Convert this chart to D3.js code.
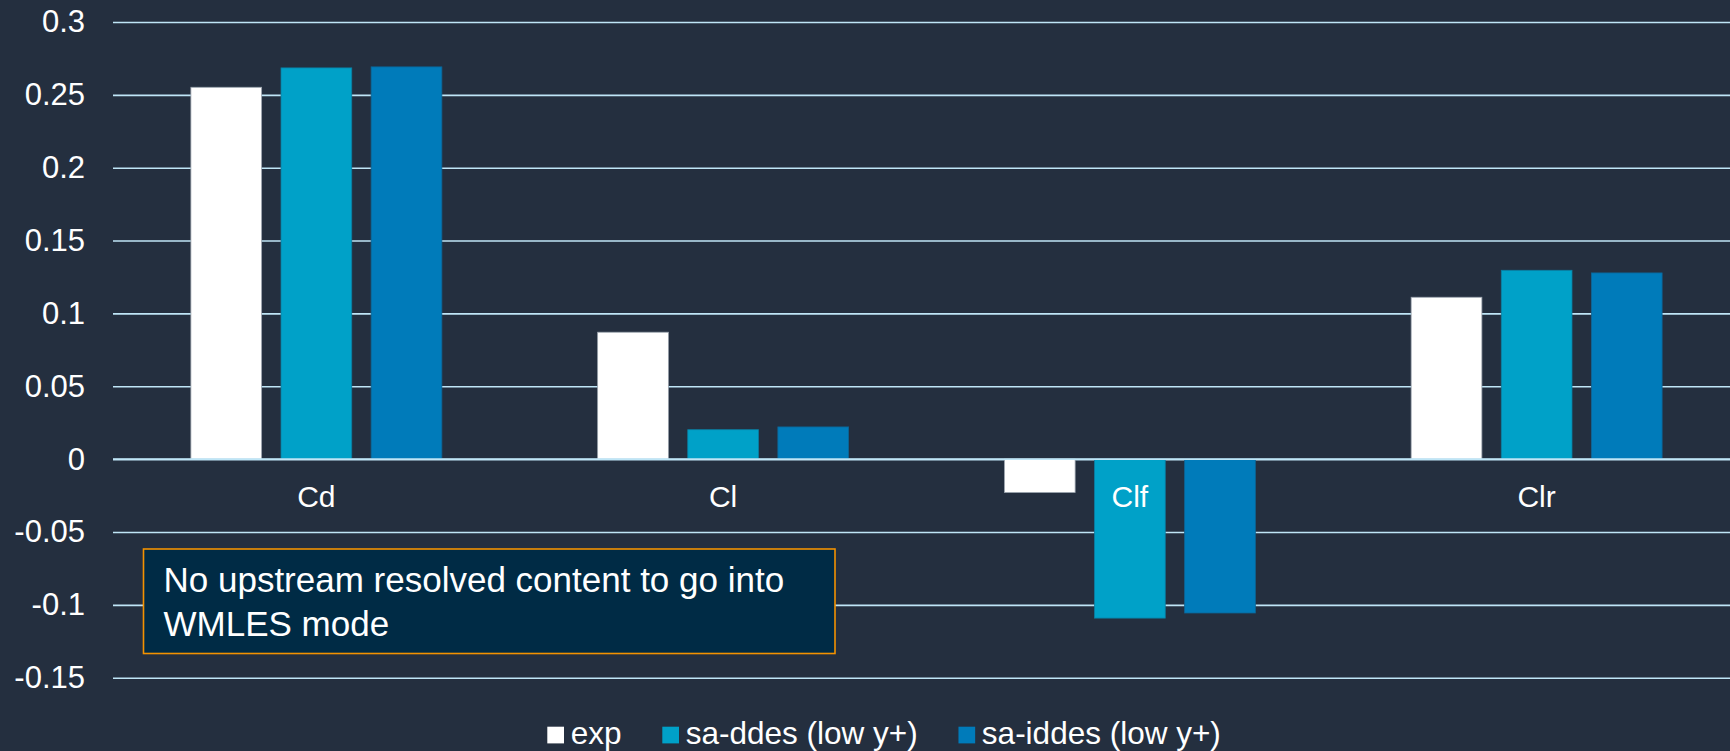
<!DOCTYPE html>
<html>
<head>
<meta charset="utf-8">
<script src="https://cdn.jsdelivr.net/npm/d3@7"></script>
<style>
  html, body { margin: 0; padding: 0; background: #242f3f; }
  svg { display: block; }
  text { font-family: "Liberation Sans", Arial, Helvetica, sans-serif; fill: #ffffff; }
</style>
</head>
<body>
<svg id="chart" width="1730" height="751"></svg>
<script>
// Aerodynamic coefficients per method
const categories = ["Cd", "Cl", "Clf", "Clr"];
const seriesNames = ["exp", "sa-ddes (low y+)", "sa-iddes (low y+)"];
const expValues = [0.2552, 0.0871, -0.0229, 0.1111];
const saDdesValues = [0.2685, 0.0202, -0.1091, 0.1296];
const saIddesValues = [0.2692, 0.0221, -0.1056, 0.1278];
const yTicks = [-0.15, -0.1, -0.05, 0, 0.05, 0.1, 0.15, 0.2, 0.25, 0.3];
const noteLines = ["No upstream resolved content to go into", "WMLES mode"];

const seriesValues = [expValues, saDdesValues, saIddesValues];
const seriesFill = ["#ffffff", "#00a1c8", "#007bba"];
const seriesStroke = ["#9aa3ad", "#0a7fa3", "#0d6596"];

const W = 1730, H = 751;
const svg = d3.select("#chart");

const y = d3.scaleLinear().domain([-0.15, 0.3]).range([677.7, 22]);
const x0 = d3.scaleBand().domain(categories).range([113, 1740]).padding(0);
const groupW = x0.bandwidth() * 0.617;
const x1 = d3.scaleBand().domain(seriesNames)
  .range([(x0.bandwidth() - groupW) / 2, (x0.bandwidth() + groupW) / 2])
  .paddingInner(0.215).paddingOuter(0);

// Horizontal gridlines
const yAxis = d3.axisLeft(y).tickValues(yTicks)
  .tickSize(-(W - 113)).tickPadding(28)
  .tickFormat(v => String(+v.toFixed(2)));
const gAxis = svg.append("g").attr("transform", "translate(113,0)").call(yAxis);
gAxis.select(".domain").remove();
gAxis.selectAll(".tick line").attr("stroke", "#bfe6f7").attr("stroke-width", 1.6);
gAxis.selectAll(".tick text")
  .attr("fill", "#ffffff").style("font-size", "31px")
  .attr("font-family", "'Liberation Sans', Arial, sans-serif");

// Bars
const rows = [];
categories.forEach((c, i) => {
  seriesNames.forEach((s, j) => rows.push({ cat: c, series: s, j, value: seriesValues[j][i] }));
});
svg.append("g").selectAll("rect").data(rows).join("rect")
  .attr("x", d => x0(d.cat) + x1(d.series))
  .attr("width", x1.bandwidth())
  .attr("y", d => y(Math.max(0, d.value)))
  .attr("height", d => Math.abs(y(d.value) - y(0)))
  .attr("fill", d => seriesFill[d.j])
  .attr("stroke", d => seriesStroke[d.j])
  .attr("stroke-width", 0.8);

// Zero line over the bar bases
svg.append("line")
  .attr("x1", 113).attr("x2", W)
  .attr("y1", y(0)).attr("y2", y(0))
  .attr("stroke", "#bfe6f7").attr("stroke-width", 1.6);

// Category labels
svg.append("g").selectAll("text").data(categories).join("text")
  .attr("x", d => x0(d) + x0.bandwidth() / 2)
  .attr("y", 507)
  .attr("text-anchor", "middle")
  .style("font-size", "30px")
  .text(d => d);

// Annotation box
const note = svg.append("g");
note.append("rect")
  .attr("x", 143.5).attr("y", 549).attr("width", 691.5).attr("height", 104.5)
  .attr("fill", "#002b45").attr("stroke", "#f39200").attr("stroke-width", 1.6);
note.selectAll("text").data(noteLines).join("text")
  .attr("x", 163.5)
  .attr("y", (d, i) => 592.3 + i * 43.4)
  .style("font-size", "35px")
  .text(d => d);

// Legend
let lx = 547.3;
const legend = svg.append("g");
seriesNames.forEach((name, j) => {
  legend.append("rect")
    .attr("x", lx).attr("y", 726.7).attr("width", 16.7).attr("height", 16.7)
    .attr("fill", seriesFill[j]);
  const t = legend.append("text")
    .attr("x", lx + 23.4).attr("y", 744)
    .style("font-size", "31.5px")
    .text(name);
  const w = t.node().getComputedTextLength();
  lx = lx + 23.4 + w + 40.8;
});
</script>
</body>
</html>
